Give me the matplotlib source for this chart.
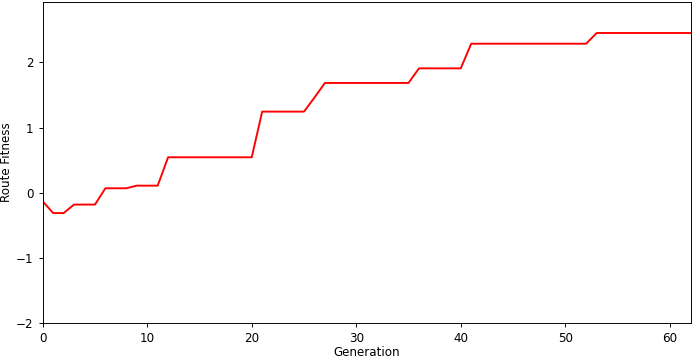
import matplotlib
matplotlib.use('Agg')
import matplotlib.pyplot as plt
import numpy as np

# best route fitness per generation
generations = np.arange(0, 63)
fitness = ([-0.13, -0.31, -0.31, -0.18, -0.18, -0.18,
            0.07, 0.07, 0.07, 0.11, 0.11, 0.11]
           + [0.545] * 9
           + [1.245] * 5
           + [1.46]
           + [1.684] * 9
           + [1.908] * 5
           + [2.286] * 12
           + [2.45] * 10)
generations = generations[:len(fitness)]

# the reference looks like a scaled-down default figure
scale = 0.86
plt.rcParams['font.size'] = 10 * scale
plt.rcParams['axes.linewidth'] = 0.8 * scale
plt.rcParams['xtick.major.size'] = 3.5 * scale
plt.rcParams['ytick.major.size'] = 3.5 * scale
plt.rcParams['xtick.major.width'] = 0.8 * scale
plt.rcParams['ytick.major.width'] = 0.8 * scale

fig = plt.figure(figsize=(6.93, 3.59), dpi=100)
ax = fig.add_axes([0.0616, 0.0994, 0.9351, 0.8959])

ax.plot(generations, fitness, color='red', linewidth=1.6 * scale)
ax.set_xlim(0, 62)
ax.set_ylim(-2, 2.93)
ax.set_yticks([-2, -1, 0, 1, 2])
ax.set_xlabel('Generation', labelpad=0.5)
ax.set_ylabel('Route Fitness', labelpad=2.5)

fig.savefig('out.png', dpi=100)
